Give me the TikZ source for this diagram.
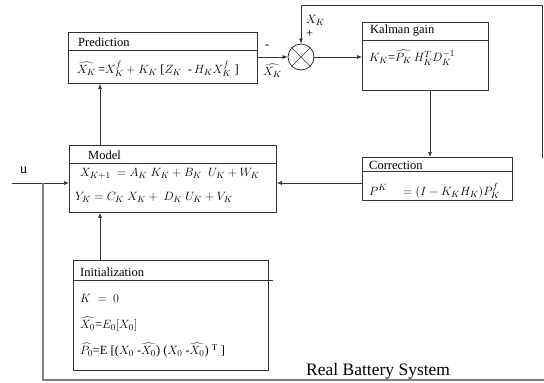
\documentclass[tikz,border=0pt]{standalone}
\usepackage{fontspec}
\setmainfont{Liberation Serif}
\usetikzlibrary{arrows.meta,calc}
\begin{document}
\begin{tikzpicture}[x=1pt,y=-1pt,
  box/.style={draw=black!80,line width=0.8pt,anchor=north west,inner sep=0pt},
  arr/.style={draw=black!80,line width=0.7pt,-{Latex[length=5pt,width=4pt]}},
  ln/.style={draw=black!80,line width=0.7pt},
  hd/.style={anchor=west,inner sep=0pt,font=\fontsize{12.5}{14}\selectfont},
  eq/.style={anchor=west,inner sep=0pt,font=\fontsize{12.5}{14}\selectfont},
  lp/.style={draw=black!50,line width=1.4pt}]
\path[use as bounding box] (0,0) rectangle (544,383);

% boxes
\node[box,minimum width=189pt,minimum height=51pt] (pred) at (68,32) {};
\node[box,minimum width=126pt,minimum height=68pt] (kal) at (362,22) {};
\node[box,minimum width=150pt,minimum height=43pt] (corr) at (362,157) {};
\node[box,minimum width=207pt,minimum height=67pt] (model) at (69,145) {};
\node[box,minimum width=195pt,minimum height=110pt] (init) at (73,260) {};
\node[draw=black!80,line width=0.8pt,circle,minimum size=26pt,inner sep=0pt] (sum) at (301,57) {};
\draw[ln] (sum.north west) -- (sum.south east) (sum.north east) -- (sum.south west);

% header dividers
\draw[ln] (pred.north west) ++(0,18) -- ++(189,0);
\draw[ln] (kal.north west) ++(0,18) -- ++(126,0);
\draw[ln] (corr.north west) ++(0,14) -- ++(150,0);
\draw[ln] (model.north west) ++(0,18) -- ++(207,0);
\draw[ln] (init.north west) ++(0,20) -- ++(200,0);

% texts
\node[hd] (tpred) at (78,42) {Prediction};
\node[eq] (epred) at (77,69) {$\widehat{X_K}$\,=$X_K^f + K_K$\ [$Z_K$\ \ -\,$H_K X_K^f$\ ]};
\node[hd] (tkal) at (370,31) {Kalman gain};
\node[eq] (ekal) at (369,58) {$K_K$=$\widehat{P_K}\,H_K^T D_K^{-1}$};
\node[hd] (tcorr) at (369,165) {Correction};
\node[eq] (ecorr) at (369,191) {$P^K\quad = (I - K_K H_K)P_K^f$};
\node[hd] (tmodel) at (88,155) {Model};
\node[eq] (em1) at (80,174) {$X_{K+1}\ = A_K\ K_K + B_K\ \ U_K + W_K$};
\node[eq] (em2) at (75,197) {$Y_K = C_K\ X_K +\ D_K\ U_K + V_K$};
\node[hd] (tinit) at (80,272) {Initialization};
\node[eq] (ei1) at (80,298) {$K\ =\ 0$};
\node[eq] (ei2) at (80,324) {$\widehat{X_0}$=$E_0[X_0]$};
\node[eq] (ei3) at (80,350) {$\widehat{P_0}$=E [($X_0$ -$\widehat{X_0}$) ($X_0$ -$\widehat{X_0}$) $^{\mathrm{T}}$ ]};
\node[eq] (minus) at (265,47) {-};
\node[eq] (xhat) at (263,71) {$\widehat{X_K}$};
\node[eq] (xk) at (306,20) {$X_K$};
\node[eq] (plus) at (306,34) {+};
\node[anchor=west,inner sep=0pt,font=\fontsize{14}{16}\selectfont] (u) at (20,170) {u};
\node[anchor=west,inner sep=0pt,font=\fontsize{17.5}{20}\selectfont] (rbs) at (306,371) {Real Battery System};

% coordinates
\coordinate (uL) at (12,183);
\coordinate (tr) at (542,5);
\coordinate (rb) at (542,158);
\coordinate (lj) at (43,183);
\coordinate (lb) at (43,380);
\coordinate (br) at (544,380);
\coordinate (ax) at (100,0);
\coordinate (kx) at (430,0);

% connectors
\draw[arr] (sum.west -| pred.east) -- (sum.west);
\draw[arr] (sum.east) -- (sum.east -| kal.west);
\draw[ln] (rb) -- (tr);
\draw[arr] (tr) -| (sum.north);
\draw[arr] (kal.south -| kx) -- (corr.north -| kx);
\draw[arr] (corr.west |- uL) -- (model.east |- uL);
\draw[arr] (uL) -- (model.west |- uL);
\draw[arr] (init.north -| ax) -- (model.south -| ax);
\draw[arr] (model.north -| ax) -- (pred.south -| ax);
\draw[lp] (lj) -- (lb) -- (br);
\end{tikzpicture}
\end{document}
